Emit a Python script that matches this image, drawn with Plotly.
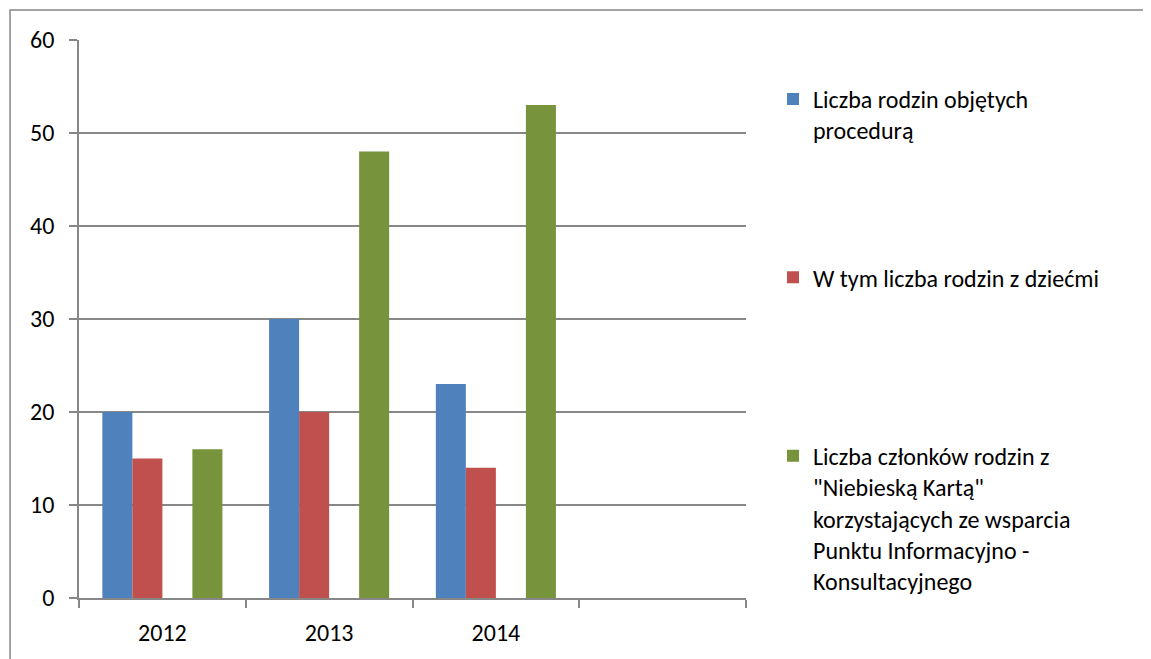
import plotly.graph_objects as go

categories = ["2012", "2013", "2014", " "]
series_names = [
    "Liczba rodzin objętych<br>procedurą",
    "W tym liczba rodzin z dziećmi<br> ",
    "Liczba członków rodzin z<br>\"Niebieską Kartą\"<br>korzystających ze wsparcia<br>Punktu Informacyjno -<br>Konsultacyjnego",
]
rodziny = [20, 30, 23, None]
rodziny_z_dziecmi = [15, 20, 14, None]
pusta_seria = [None, None, None, None]
czlonkowie_nk = [16, 48, 53, None]

colors = ["#4F81BD", "#C0504D", "#77933C"]
FONT = "Carlito, Lato, sans-serif"
GRID = "#878787"

fig = go.Figure()
fig.add_trace(go.Bar(x=categories, y=rodziny, name=series_names[0],
                     marker=dict(color=colors[0], line=dict(width=0)), legendgroup="a"))
fig.add_trace(go.Bar(x=categories, y=rodziny_z_dziecmi, name=series_names[1],
                     marker=dict(color=colors[1], line=dict(width=0)), legendgroup="b"))
fig.add_trace(go.Bar(x=categories, y=pusta_seria, name="", showlegend=False,
                     marker=dict(color="white"), legendgroup="c"))
fig.add_trace(go.Bar(x=categories, y=czlonkowie_nk, name=series_names[2],
                     marker=dict(color=colors[2], line=dict(width=0)), legendgroup="d"))

fig.update_layout(
    width=1143, height=651,
    paper_bgcolor="white", plot_bgcolor="white",
    margin=dict(l=71, r=405, t=32, b=59),
    barmode="group", bargap=0.28, bargroupgap=0,
    font=dict(family=FONT, size=24, color="#000000"),
    showlegend=True,
    legend=dict(
        x=1.0405, xanchor="left", y=0.934, yanchor="top",
        valign="top", tracegroupgap=113,
        font=dict(family=FONT, size=24, color="#000000"),
        itemwidth=30, bgcolor="rgba(0,0,0,0)",
    ),
    xaxis=dict(
        type="category", categoryorder="array", categoryarray=categories,
        range=[-0.5, 3.5], tickson="boundaries",
        showline=True, linecolor=GRID, linewidth=1.5,
        ticks="outside", ticklen=8, tickcolor=GRID, tickwidth=1.5,
        showgrid=False, tickfont=dict(size=24), ticklabelstandoff=12,
    ),
    yaxis=dict(
        range=[0, 60], dtick=10, tick0=0,
        showline=True, linecolor=GRID, linewidth=1.5,
        ticks="outside", ticklen=8, tickcolor=GRID, tickwidth=1.5,
        showgrid=True, gridcolor=GRID, gridwidth=1.5,
        zeroline=False, tickfont=dict(size=24), ticklabelstandoff=10,
    ),
    shapes=[dict(type="rect", xref="paper", yref="paper",
                 x0=-0.1034, x1=1.7, y0=-0.2, y1=1.0536,
                 line=dict(color=GRID, width=1.5), fillcolor="rgba(0,0,0,0)",
                 layer="below")],
)

fig.write_html("out.html")
